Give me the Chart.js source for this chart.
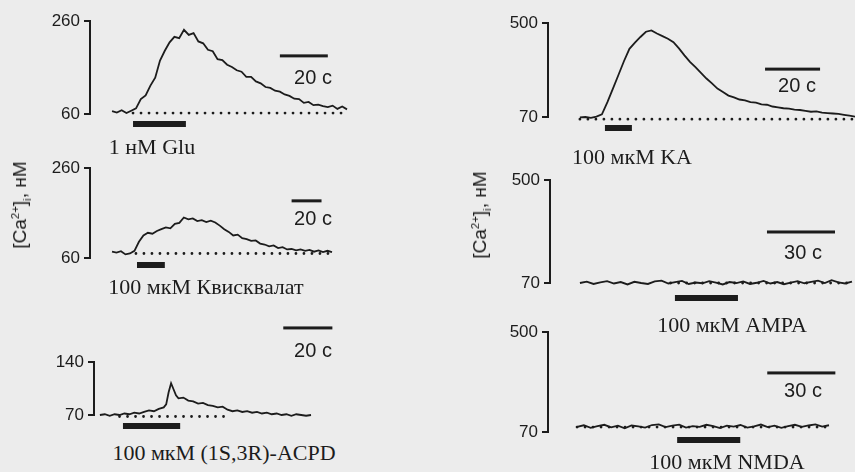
<!DOCTYPE html>
<html>
<head>
<meta charset="utf-8">
<script src="https://cdn.jsdelivr.net/npm/chart.js@4/dist/chart.umd.min.js"></script>
<style>
  body { margin: 0; background: #ececec; }
  #page { position: relative; width: 855px; height: 472px; overflow: hidden; background: #ececec; }
  #page canvas { position: absolute; }
  .drug { position: absolute; font-family: 'Liberation Serif', serif; font-size: 22px; color: #1c1c1c; white-space: nowrap; transform: translate(-50%, -50%); }
  .sec { position: absolute; font-family: 'Liberation Sans', sans-serif; font-size: 20px; color: #1c1c1c; white-space: nowrap; transform: translate(-50%, -50%); }
  .ytitle { position: absolute; font-family: 'Liberation Sans', sans-serif; font-size: 19px; color: #1c1c1c; white-space: nowrap; transform: translate(-50%, -50%) rotate(-90deg); }
  .ytitle sup, .ytitle sub { font-size: 0.6em; line-height: 0; }
</style>
</head>
<body>
<div id="page"></div>
<script>
// --- data: time (s) and [Ca2+]i (nM) ---
const gluTime = [0,2,4,6,8,10,12,14,16,18,20,22,24,26,28,30,32,34,36,38,40,42,44,46,48,50,52,54,56,58,60,62,64,66,68,70,72,74,76,78,80,82,84,86,88,90,92,94,96,98];
const gluCa = [66,63,68,62,67,72,92,100,121,138,175,196,214,226,223,241,230,234,216,212,198,195,178,176,166,161,154,151,140,140,130,126,118,116,110,108,102,99,93,92,84,86,79,80,77,75,78,71,76,70];

const quisTime = [0,3,6,9,12,15,18,21,24,27,30,33,36,39,42,45,48,51,54,57,60,63,66,69,72,75,78,81,84,87,90,93,96,99,102,105,108,111,114,117,120,123,126,129,132,135,138,141,144,147];
const quisCa = [74,72,75,68,70,76,96,110,116,114,120,124,128,126,136,138,150,146,148,142,144,140,143,139,132,124,118,110,112,104,102,98,99,92,90,86,88,82,84,79,80,77,79,76,78,74,77,73,76,73];

const acpdTime = [0,2,4,6,8,10,12,14,16,18,20,22,24,26,27,28,29,30,31,32,34,36,38,40,42,44,46,48,50,52,54,56,58,60,62,64,66,68,70,72,74,76,78,80,82,84,86];
const acpdCa = [70,71,69,71,70,72,71,73,72,74,76,75,78,80,84,100,112,104,96,92,93,89,88,85,86,83,82,80,81,77,75,76,74,75,73,74,72,73,71,72,70,71,69,71,70,69,70];

const kaTime = [0,2,4,6,8,10,12,14,16,18,20,22,24,26,28,30,32,34,36,38,40,42,44,46,48,50,52,54,56,58,60,62,64,66,68,70,72,74,76,78,80,82,84,86,88,90,92,94,96,98,100];
const kaCa = [68,70,66,72,82,138,200,262,325,382,410,436,460,466,452,440,428,412,384,352,322,298,272,246,224,200,184,168,160,150,146,138,136,128,126,118,114,110,108,104,102,98,94,96,90,88,86,84,80,76,72];

const ampaTime = [0,3,6,9,12,15,18,21,24,27,30,33,36,39,42,45,48,51,54,57,60,63,66,69,72,75,78,81,84,87,90,93,96,99,102,105,108,111,114,117,120];
const ampaCa = [70,76,66,73,78,68,74,64,75,70,66,77,80,68,74,79,66,72,69,78,72,64,74,70,77,66,71,79,68,74,65,72,78,69,75,80,70,82,73,68,76];

const nmdaTime = [0,3,6,9,12,15,18,21,24,27,30,33,36,39,42,45,48,51,54,57,60,63,66,69,72,75,78,81,84,87,90,93,96,99,102,105,108,111];
const nmdaCa = [92,99,88,95,101,90,97,86,98,94,89,100,103,91,97,102,89,95,92,101,95,87,97,93,100,89,94,102,91,97,88,95,101,92,98,103,93,99];

const INK = '#1c1c1c';

// bracket stubs, application bars and time scale bars
const marks = {
  id: 'marks',
  afterDatasetsDraw(chart, args, o) {
    const { ctx, chartArea, scales: { x, y } } = chart;
    ctx.save();
    ctx.strokeStyle = INK;
    ctx.lineWidth = 2;
    [y.min, y.max].forEach(v => {
      const py = Math.round(y.getPixelForValue(v));
      ctx.beginPath();
      ctx.moveTo(chartArea.left - 6, py);
      ctx.lineTo(chartArea.left, py);
      ctx.stroke();
    });
    ctx.fillStyle = INK;
    const s0 = x.getPixelForValue(o.stim[0]);
    const s1 = x.getPixelForValue(o.stim[1]);
    ctx.fillRect(s0, chartArea.bottom + o.stimDy - 3, s1 - s0, 6);
    const b0 = x.getPixelForValue(o.bar[0]);
    const b1 = x.getPixelForValue(o.bar[0] + o.bar[1]);
    const by = y.getPixelForValue(o.bar[2]);
    ctx.fillRect(b0, by - 1.5, b1 - b0, 3);
    ctx.restore();
  }
};

const page = document.getElementById('page');

function panel(p) {
  const [cl, ct, cr, cb] = p.canvas;
  const [al, at, ar, ab] = p.area;
  const cv = document.createElement('canvas');
  cv.width = cr - cl;
  cv.height = cb - ct;
  cv.style.left = cl + 'px';
  cv.style.top = ct + 'px';
  page.appendChild(cv);

  new Chart(cv.getContext('2d'), {
    type: 'line',
    data: {
      datasets: [
        {
          data: p.time.map((t, i) => ({ x: t, y: p.ca[i] })),
          borderColor: INK,
          borderWidth: 1.8,
          pointRadius: 0,
          tension: 0,
          clip: false
        },
        {
          data: [{ x: p.base[0], y: p.base[2] }, { x: p.base[1], y: p.base[2] }],
          borderColor: INK,
          borderWidth: 2.8,
          borderDash: [0, 8],
          borderCapStyle: 'round',
          pointRadius: 0,
          clip: false
        }
      ]
    },
    options: {
      responsive: false,
      animation: false,
      layout: { padding: { left: 0, top: at - ct, right: cr - ar, bottom: cb - ab } },
      plugins: { legend: { display: false }, tooltip: { enabled: false }, marks: p.marks },
      scales: {
        x: { type: 'linear', display: false, min: p.xmin, max: p.xmax },
        y: {
          type: 'linear',
          min: p.ymin,
          max: p.ymax,
          afterBuildTicks: s => { s.ticks = [{ value: p.ymin }, { value: p.ymax }]; },
          afterFit: s => { s.width = al - cl; },
          grid: { drawOnChartArea: false, drawTicks: true, tickLength: 6, lineWidth: 2, color: INK },
          border: { display: true, width: 2, color: INK },
          ticks: { color: INK, padding: 4, font: { family: 'Liberation Sans', size: 17 } }
        }
      }
    },
    plugins: [marks]
  });
}

panel({
  time: gluTime, ca: gluCa, ymin: 60, ymax: 260, xmin: -9.2, xmax: 98,
  canvas: [20, 0, 360, 135], area: [90, 21, 347, 114],
  base: [8.75, 98, 62],
  marks: { stim: [8.75, 30.8], stimDy: 10, bar: [70, 20, 185] }
});
panel({
  time: quisTime, ca: quisCa, ymin: 60, ymax: 260, xmin: -14.7, xmax: 147,
  canvas: [20, 150, 345, 275], area: [90, 168, 332, 258],
  base: [16, 147, 70],
  marks: { stim: [16.7, 35.3], stimDy: 7, bar: [120, 20, 187] }
});
panel({
  time: acpdTime, ca: acpdCa, ymin: 70, ymax: 140, xmin: -2.4, xmax: 86.4,
  canvas: [20, 310, 345, 440], area: [94, 362, 312, 415],
  base: [8, 53, 68],
  marks: { stim: [9.4, 32.7], stimDy: 11, bar: [74.7, 20, 185] }
});
panel({
  time: kaTime, ca: kaCa, ymin: 70, ymax: 500, xmin: -11.6, xmax: 100,
  canvas: [480, 0, 855, 140], area: [548, 23, 855, 117],
  base: [0, 100, 60],
  marks: { stim: [9.1, 18.9], stimDy: 11, bar: [67.3, 20, 289] }
});
panel({
  time: ampaTime, ca: ampaCa, ymin: 70, ymax: 500, xmin: -13.2, xmax: 120,
  canvas: [480, 160, 855, 310], area: [550, 180, 852, 283],
  base: [40, 120, 70],
  marks: { stim: [41.9, 69.7], stimDy: 15, bar: [82.5, 30, 283] }
});
panel({
  time: nmdaTime, ca: nmdaCa, ymin: 70, ymax: 500, xmin: -12.8, xmax: 111,
  canvas: [480, 315, 855, 455], area: [548, 332, 829, 432],
  base: [0, 111, 91],
  marks: { stim: [44.1, 71.9], stimDy: 8, bar: [83.8, 30, 324] }
});

// free text: drug names, time scale labels, axis titles
const texts = [
  ['drug', 152, 147, '1 нМ Glu'],
  ['drug', 206, 287, '100 мкМ Квисквалат'],
  ['drug', 224, 453, '100 мкМ (1S,3R)-ACPD'],
  ['drug', 632, 157, '100 мкМ KA'],
  ['drug', 732, 325, '100 мкМ AMPA'],
  ['drug', 727, 462, '100 мкМ NMDA'],
  ['sec', 313, 77, '20 c'],
  ['sec', 313, 218, '20 c'],
  ['sec', 313, 350, '20 c'],
  ['sec', 797, 85, '20 c'],
  ['sec', 803, 252, '30 c'],
  ['sec', 803, 390, '30 c']
];
texts.forEach(([cls, x, y, s]) => {
  const d = document.createElement('div');
  d.className = cls;
  d.style.left = x + 'px';
  d.style.top = y + 'px';
  d.textContent = s;
  page.appendChild(d);
});
[[20, 205], [480, 215]].forEach(([x, y]) => {
  const d = document.createElement('div');
  d.className = 'ytitle';
  d.style.left = x + 'px';
  d.style.top = y + 'px';
  d.innerHTML = '[Ca<sup>2+</sup>]<sub>i</sub>, нМ';
  page.appendChild(d);
});
</script>
</body>
</html>
